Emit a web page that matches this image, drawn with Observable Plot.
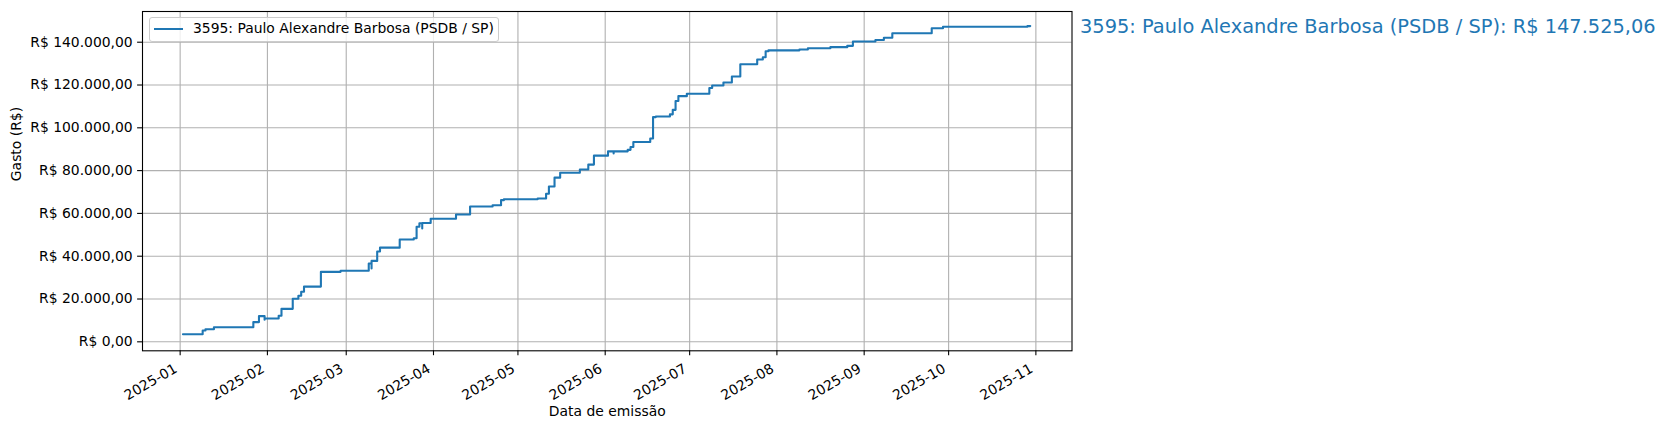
<!DOCTYPE html>
<html><head><meta charset="utf-8">
<script src="https://cdn.jsdelivr.net/npm/d3@7"></script>
<script src="https://cdn.jsdelivr.net/npm/@observablehq/plot@0.6"></script>
<style>
body{margin:0;background:#fff;}
#wrap{position:relative;width:1667px;height:430px;font-family:"DejaVu Sans";color:#000;}
#legend{position:absolute;left:149px;top:17px;width:348px;height:23px;border:1px solid #cccccc;border-radius:3px;background:rgba(255,255,255,0.8);box-sizing:content-box;}
#legend .sw{position:absolute;left:4px;top:10px;width:29px;height:2px;background:#1f77b4;}
#legend .lb{position:absolute;left:43px;top:2px;font-size:13.9px;line-height:16px;white-space:nowrap;}
#side{position:absolute;left:1080px;top:16px;font-size:19.4px;line-height:22px;color:#1f77b4;white-space:nowrap;}
</style></head><body><div id="wrap"></div>
<script>
const seriesName = "3595: Paulo Alexandre Barbosa (PSDB / SP)";
const finalTotal = 147525.06;
const dates = [
 "2025-01-02","2025-01-09","2025-01-10","2025-01-13","2025-01-27","2025-01-29","2025-01-31","2025-01-31",
 "2025-02-05","2025-02-06","2025-02-10","2025-02-12","2025-02-13","2025-02-14","2025-02-20","2025-02-27",
 "2025-03-09","2025-03-10","2025-03-10","2025-03-12","2025-03-13","2025-03-20","2025-03-25","2025-03-26",
 "2025-03-27","2025-03-28","2025-03-28","2025-03-31",
 "2025-04-09","2025-04-14","2025-04-22","2025-04-25","2025-04-26",
 "2025-05-08","2025-05-11","2025-05-12","2025-05-14","2025-05-16","2025-05-23","2025-05-26","2025-05-28",
 "2025-06-02","2025-06-04","2025-06-04","2025-06-09","2025-06-10","2025-06-11","2025-06-17","2025-06-18",
 "2025-06-19","2025-06-24","2025-06-25","2025-06-26","2025-06-27","2025-06-30",
 "2025-07-08","2025-07-09","2025-07-13","2025-07-16","2025-07-19","2025-07-25","2025-07-27","2025-07-28","2025-07-29",
 "2025-08-09","2025-08-12","2025-08-20","2025-08-26","2025-08-28",
 "2025-09-05","2025-09-08","2025-09-11","2025-09-25","2025-09-29",
 "2025-10-29","2025-10-30"
];
const totals = [
 3550,5300,5900,6800,9200,12000,10300,10900,
 12200,15400,20100,21500,23400,25800,32700,33200,
 36600,34300,37800,42200,44000,47800,48400,53800,
 55400,53000,55500,57500,
 59500,63200,63800,66200,66600,
 67000,69200,72600,76700,79000,80500,82800,87000,
 89000,88000,89000,89700,91000,93400,95000,105000,
 105300,106300,108400,112500,114800,115900,
 118600,119800,121200,124000,129700,131900,133000,135800,136200,
 136600,137200,137700,138300,140300,
 141000,142100,144200,146500,147200,
 147525.06,147525.06
];
const monthTicks = ["2025-01-01","2025-02-01","2025-03-01","2025-04-01","2025-05-01","2025-06-01",
 "2025-07-01","2025-08-01","2025-09-01","2025-10-01","2025-11-01"];
const yTicks = [0,20000,40000,60000,80000,100000,120000,140000];
const xDomain = ["2024-12-18T15:00:00Z","2025-11-13T20:00:00Z"];
const yDomain = [-4200,154350];
const xLabel = "Data de emissão";
const yLabel = "Gasto (R$)";

const brl = d3.formatLocale({decimal:",",thousands:".",grouping:[3],currency:["R$ ",""]}).format("$,.2f");
const fmtMonth = d3.utcFormat("%Y-%m");
const data = dates.map((d,i)=>({date:new Date(d),total:totals[i]}));
const ticksX = monthTicks.map(d=>new Date(d));

const plot = Plot.plot({
  width:1667,height:430,
  marginLeft:142,marginRight:595.5,marginTop:11,marginBottom:79.7,
  style:{fontFamily:"DejaVu Sans",fontSize:"13.9px",background:"white",color:"black",overflow:"visible"},
  x:{type:"utc",domain:xDomain.map(d=>new Date(d)),label:null},
  y:{domain:yDomain,label:null},
  marks:[
    Plot.gridX(ticksX,{stroke:"#b0b0b0",strokeOpacity:1,strokeWidth:1.1}),
    Plot.gridY(yTicks,{stroke:"#b0b0b0",strokeOpacity:1,strokeWidth:1.1}),
    Plot.lineY(data,{x:"date",y:"total",curve:"step-after",stroke:"#1f77b4",strokeWidth:2.1}),
    Plot.frame({stroke:"black",strokeWidth:1.1}),
    Plot.axisY(yTicks,{tickSize:4.9,tickPadding:4.9,tickFormat:brl,strokeWidth:1.1,fontSize:13.9,label:null}),
    Plot.axisX(ticksX,{tickSize:4.9,tickFormat:()=>"",strokeWidth:1.1,label:null}),
    Plot.text(ticksX,{x:d=>d,text:d=>fmtMonth(d),frameAnchor:"bottom",dx:-7,dy:12,rotate:-30,textAnchor:"end",lineAnchor:"top",fontSize:13.9}),
    Plot.text([xLabel],{text:d=>d,frameAnchor:"bottom",dy:60.7,lineAnchor:"middle",fontSize:13.9}),
    Plot.text([yLabel],{text:d=>d,frameAnchor:"left",dx:-126,rotate:-90,lineAnchor:"middle",fontSize:13.9})
  ]
});
const wrap = document.getElementById("wrap");
wrap.appendChild(plot);
const lg = document.createElement("div");
lg.id = "legend";
lg.innerHTML = '<div class="sw"></div><span class="lb"></span>';
lg.querySelector(".lb").textContent = seriesName;
wrap.appendChild(lg);
const side = document.createElement("div");
side.id = "side";
side.textContent = seriesName + ": " + brl(finalTotal);
wrap.appendChild(side);
</script></body></html>
